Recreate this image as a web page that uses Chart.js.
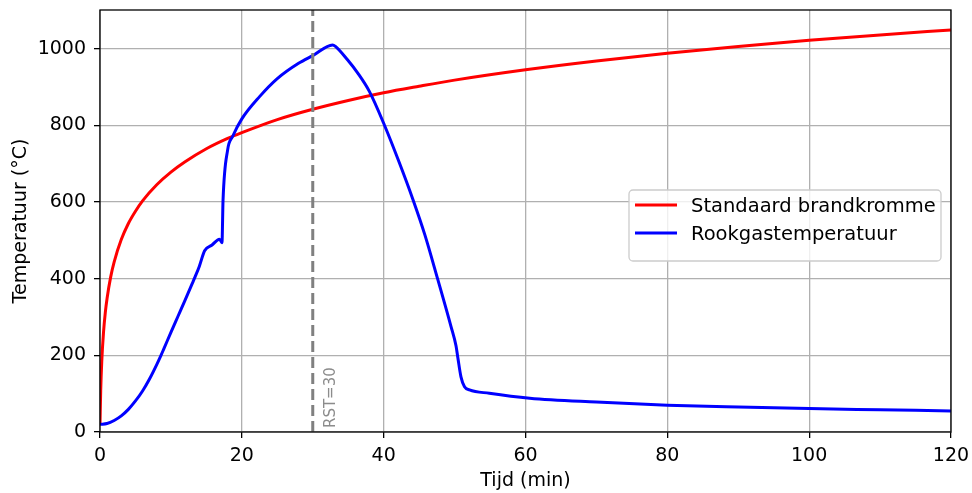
<!DOCTYPE html>
<html lang="nl">
<head>
<meta charset="utf-8">
<title>Brandkromme</title>
<script src="https://cdn.jsdelivr.net/npm/chart.js@4.4.1/dist/chart.umd.min.js"></script>
<style>
  html, body { margin: 0; padding: 0; background: #fff; }
  #wrap { width: 972px; height: 493px; }
</style>
</head>
<body>
<div id="wrap"><canvas id="grafiek" width="972" height="493"></canvas></div>
<script>
const isoTijd = [0, 0.1, 0.25, 0.5, 0.75, 1, 1.5, 2, 3, 4, 5, 6, 8, 10, 12, 15, 18, 20, 25, 30, 35, 40, 45, 50, 60, 70, 80, 90, 100, 110, 120];
const isoTemp = [20, 108, 185, 261, 312, 349, 404, 444, 502, 544, 576, 603, 645, 678, 705, 739, 766, 781, 815, 842, 865, 885, 902, 918, 945, 968, 988, 1006, 1022, 1036, 1049];

// Rookgastemperatuur
const rookTijd = [0, 1, 2, 3, 4, 5, 6, 7, 8, 8.6, 9, 10, 11, 12, 13, 13.3, 14, 14.75, 15.8, 16.85, 17.2, 17.35, 18, 18.7, 20, 22.5, 25, 28, 30, 32.8, 33.2, 34.9, 36.4, 38, 40.1, 42.2, 44.1, 45.8, 47.6, 49.5, 50.2, 50.45, 50.9, 51.4, 52.1, 54.9, 60.6, 70, 80, 90, 100, 110, 120];
const rookTemp = [20, 22, 30, 42, 59, 81, 107, 139, 176, 200, 217, 260, 302, 344, 387, 400, 432, 473, 488, 503, 494, 605, 736, 771, 817, 875, 922, 962, 982, 1010, 1006, 971, 935, 888, 801, 703, 608, 515, 400, 275, 225, 195, 144, 118, 110, 101, 88, 78, 70, 65, 61, 58, 55];

const rst = 30;
const xTicks = [0, 20, 40, 60, 80, 100, 120];
const yTicks = [0, 200, 400, 600, 800, 1000];

const FONT = 'DejaVu Sans';
const FS = 19;

function punten(xs, ys) {
  return xs.map((x, i) => ({ x: x, y: ys[i] }));
}

// legenda binnen het plotvlak, rechts midden
const legendaPlugin = {
  id: 'legenda',
  afterDraw(chart) {
    const ctx = chart.ctx;
    const a = chart.chartArea;
    const w = 312, h = 71;
    const x = a.right - 10 - w;
    const y = 190;
    ctx.save();
    ctx.beginPath();
    ctx.roundRect(x, y, w, h, 4);
    ctx.fillStyle = 'rgba(255,255,255,0.8)';
    ctx.fill();
    ctx.lineWidth = 1.3;
    ctx.strokeStyle = '#cccccc';
    ctx.stroke();
    const items = [['Standaard brandkromme', '#ff0000'], ['Rookgastemperatuur', '#0000ff']];
    ctx.font = '19.5px "' + FONT + '"';
    ctx.textBaseline = 'alphabetic';
    ctx.textAlign = 'left';
    items.forEach((it, i) => {
      const ly = y + 15 + i * 28;
      ctx.beginPath();
      ctx.moveTo(x + 6, ly);
      ctx.lineTo(x + 48, ly);
      ctx.strokeStyle = it[1];
      ctx.lineWidth = 3;
      ctx.stroke();
      ctx.fillStyle = '#000';
      ctx.fillText(it[0], x + 62, ly + 7);
    });
    ctx.restore();
  }
};

// kader rond het plotvlak en het label bij de RST-lijn
const kaderPlugin = {
  id: 'kader',
  afterDatasetsDraw(chart) {
    const ctx = chart.ctx;
    const a = chart.chartArea;
    const xs = chart.scales.x;
    ctx.save();
    ctx.translate(xs.getPixelForValue(rst) + 22, a.bottom - 4);
    ctx.rotate(-Math.PI / 2);
    ctx.font = '15px "' + FONT + '"';
    ctx.fillStyle = '#8c8c8c';
    ctx.textAlign = 'left';
    ctx.textBaseline = 'alphabetic';
    ctx.fillText('RST=' + rst, 0, 0);
    ctx.restore();

    ctx.save();
    ctx.strokeStyle = '#000';
    ctx.lineWidth = 1.3;
    ctx.strokeRect(a.left, a.top, a.right - a.left, a.bottom - a.top);
    ctx.restore();
  }
};

new Chart(document.getElementById('grafiek'), {
  type: 'line',
  data: {
    datasets: [
      {
        label: 'Standaard brandkromme',
        data: punten(isoTijd, isoTemp),
        borderColor: '#ff0000',
        borderWidth: 3,
        pointRadius: 0,
        cubicInterpolationMode: 'monotone',
        order: 3
      },
      {
        label: 'Rookgastemperatuur',
        data: punten(rookTijd, rookTemp),
        borderColor: '#0000ff',
        borderWidth: 3,
        pointRadius: 0,
        cubicInterpolationMode: 'monotone',
        order: 2
      },
      {
        label: 'RST',
        data: [{ x: rst, y: 0 }, { x: rst, y: 1101 }],
        borderColor: '#808080',
        borderWidth: 3,
        borderDash: [11, 5],
        pointRadius: 0,
        order: 1
      }
    ]
  },
  options: {
    responsive: false,
    animation: false,
    layout: { padding: { left: 0, right: 21, top: 10, bottom: 0 } },
    plugins: {
      legend: { display: false },
      tooltip: { enabled: false }
    },
    scales: {
      x: {
        type: 'linear',
        min: 0,
        max: 120,
        afterFit(scale) {
          scale.height = 61;
          scale.paddingLeft = 0;
          scale.paddingRight = 0;
        },
        afterBuildTicks(scale) { scale.ticks = xTicks.map(v => ({ value: v })); },
        grid: { color: '#b0b0b0', lineWidth: 1.3, tickColor: '#000', tickLength: 6, tickWidth: 1.3 },
        border: { display: false },
        ticks: { color: '#000', font: { family: FONT, size: FS }, padding: 7, maxRotation: 0, callback: v => String(v) },
        title: { display: true, text: 'Tijd (min)', color: '#000', font: { family: FONT, size: FS }, padding: { top: 0, bottom: 1 } }
      },
      y: {
        type: 'linear',
        min: 0,
        max: 1101,
        afterFit(scale) {
          scale.width = 100;
          scale.paddingTop = 0;
          scale.paddingBottom = 0;
        },
        afterBuildTicks(scale) { scale.ticks = yTicks.map(v => ({ value: v })); },
        grid: { color: '#b0b0b0', lineWidth: 1.3, tickColor: '#000', tickLength: 6, tickWidth: 1.3 },
        border: { display: false },
        ticks: { color: '#000', font: { family: FONT, size: FS }, padding: 8, callback: v => String(v) },
        title: { display: true, text: 'Temperatuur (°C)', color: '#000', font: { family: FONT, size: FS }, padding: { top: 10, bottom: 0 } }
      }
    }
  },
  plugins: [kaderPlugin, legendaPlugin]
});
</script>
</body>
</html>
